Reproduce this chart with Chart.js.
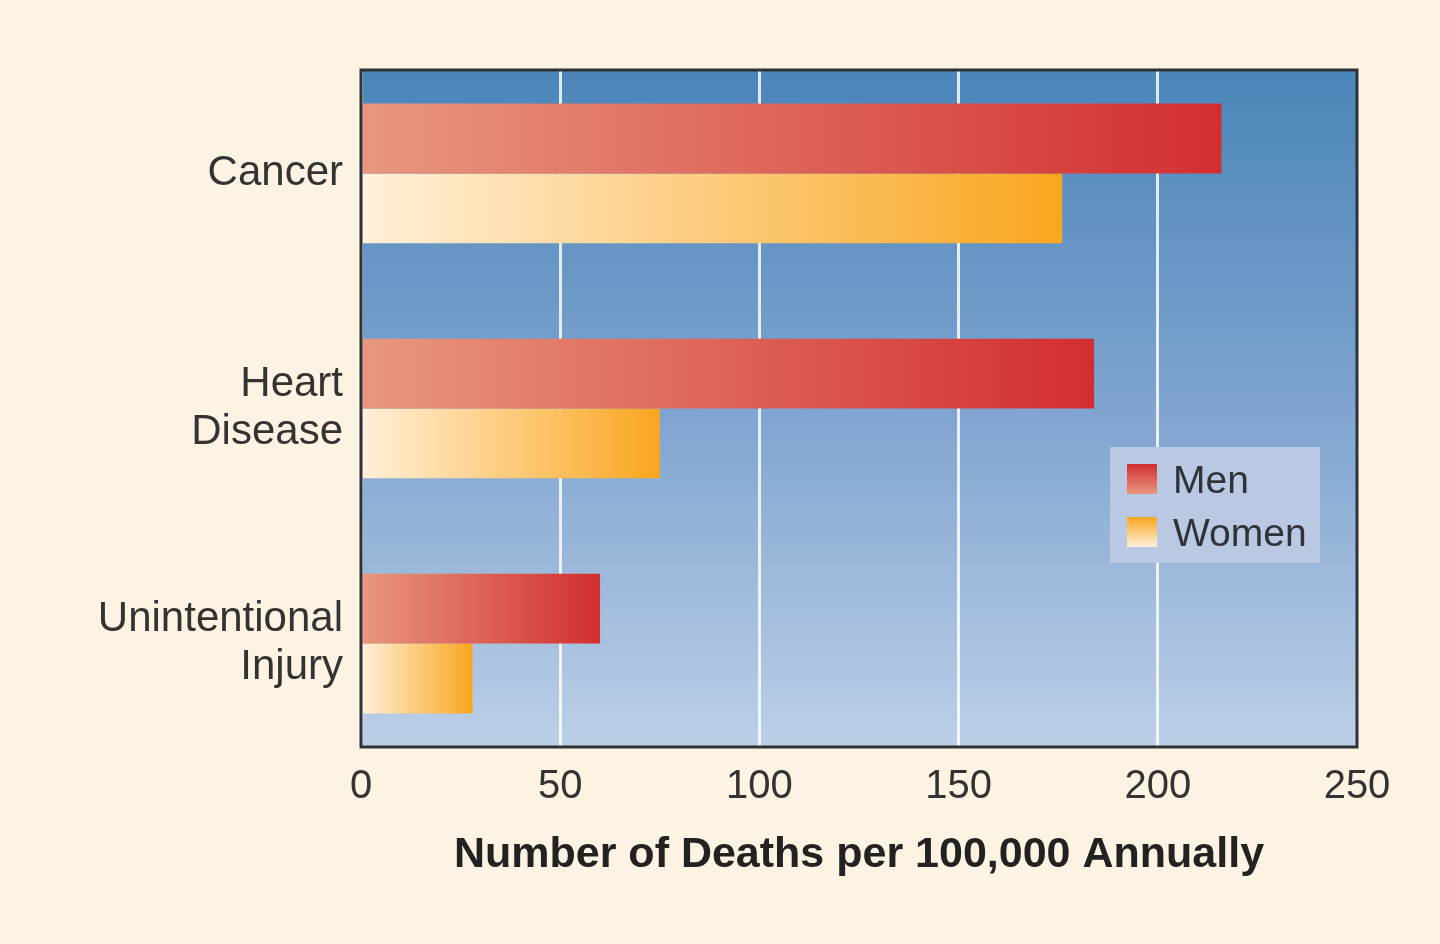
<!DOCTYPE html>
<html>
<head>
<meta charset="utf-8">
<title>Deaths per 100,000 Annually</title>
<script src="https://cdn.jsdelivr.net/npm/chart.js@4.4.1/dist/chart.umd.min.js"></script>
<style>
  html, body { margin: 0; padding: 0; background: #fdf3e3; }
  #wrap { width: 1440px; height: 944px; position: relative; }
</style>
</head>
<body>
<div id="wrap"><canvas id="deathsChart"></canvas></div>
<script>
// ─── DATA ───
const categories = ['Cancer', 'Heart Disease', 'Unintentional Injury'];
const menDeaths = [216, 184, 60];
const womenDeaths = [176, 75, 28];
const xTicks = [0, 50, 100, 150, 200, 250];
const seriesNames = ['Men', 'Women'];

// ─── COLOURS ───
const menStops = ['#e8977f', '#d22e30'];
const womenStops = ['#fff0da', '#f9a61f'];
const FONT = "'Liberation Sans', Arial, sans-serif";

// horizontal gradient running along each bar, light at 0 and dark at its end
function barGradient(ctx, stops) {
    const chart = ctx.chart;
    const xs = chart.scales.x;
    if (!xs || !ctx.raw) return stops[1];
    const x0 = xs.getPixelForValue(0);
    const x1 = xs.getPixelForValue(ctx.raw.x);
    if (!(x1 > x0)) return stops[1];
    const g = chart.ctx.createLinearGradient(x0, 0, x1, 0);
    g.addColorStop(0, stops[0]);
    g.addColorStop(1, stops[1]);
    return g;
}

// ─── PLOT BACKGROUND + FRAME ───
const plotFrame = {
    id: 'plotFrame',
    beforeDraw(chart) {
        const { ctx, chartArea: a } = chart;
        const g = ctx.createLinearGradient(0, a.top, 0, a.bottom);
        g.addColorStop(0, '#4a85b9');
        g.addColorStop(0.5, '#7fa4cf');
        g.addColorStop(1, '#bccfe7');
        ctx.save();
        ctx.fillStyle = g;
        ctx.fillRect(a.left, a.top, a.right - a.left, a.bottom - a.top);
        ctx.restore();
    },
    afterDraw(chart) {
        const { ctx, chartArea: a } = chart;
        ctx.save();
        ctx.strokeStyle = '#2e3236';
        ctx.lineWidth = 3;
        ctx.strokeRect(a.left, a.top, a.right - a.left, a.bottom - a.top);
        ctx.restore();
    }
};

// ─── LEGEND BOX INSIDE THE PLOT ───
const boxLegend = {
    id: 'boxLegend',
    afterDatasetsDraw(chart) {
        const ctx = chart.ctx;
        const bx = 1110, by = 447, bw = 210, bh = 116;
        ctx.save();
        ctx.fillStyle = '#b9c8e3';
        ctx.fillRect(bx, by, bw, bh);
        const swatches = [menStops, womenStops];
        chart.data.datasets.forEach((ds, i) => {
            const sy = by + 17 + i * 53;
            const g = ctx.createLinearGradient(0, sy, 0, sy + 30);
            g.addColorStop(0, swatches[i][1]);
            g.addColorStop(1, swatches[i][0]);
            ctx.fillStyle = g;
            ctx.fillRect(bx + 17, sy, 30, 30);
            ctx.fillStyle = '#2f3236';
            ctx.font = '39px ' + FONT;
            ctx.textBaseline = 'middle';
            ctx.textAlign = 'left';
            ctx.fillText(ds.label, bx + 63, sy + 18);
        });
        ctx.restore();
    }
};

// ─── CREATE THE CHART ───
const ctx = document.getElementById('deathsChart').getContext('2d');
const deathsChart = new Chart(ctx, {
    type: 'bar',
    data: {
        datasets: [
            {
                label: seriesNames[0],
                data: menDeaths.map((v, i) => ({ x: v, y: i })),
                backgroundColor: c => barGradient(c, menStops),
                borderWidth: 0
            },
            {
                label: seriesNames[1],
                data: womenDeaths.map((v, i) => ({ x: v, y: i })),
                backgroundColor: c => barGradient(c, womenStops),
                borderWidth: 0
            }
        ]
    },
    options: {
        indexAxis: 'y',
        responsive: true,
        maintainAspectRatio: false,
        animation: false,
        categoryPercentage: 0.594,
        barPercentage: 1.0,
        layout: { padding: { top: 70, right: 83, left: 0, bottom: 0 } },
        scales: {
            x: {
                type: 'linear',
                min: xTicks[0],
                max: xTicks[xTicks.length - 1],
                afterBuildTicks: s => { s.ticks = xTicks.map(v => ({ value: v })); },
                afterFit: s => { s.height = 197; },
                grid: { color: 'rgba(255,255,255,0.82)', lineWidth: 3, drawTicks: false },
                border: { display: false },
                ticks: { color: '#333', padding: 16, font: { family: FONT, size: 40 } },
                title: {
                    display: true,
                    text: 'Number of Deaths per 100,000 Annually',
                    color: '#222',
                    font: { family: FONT, size: 43, weight: 'bold' },
                    padding: { top: 0, bottom: 63 }
                }
            },
            y: {
                type: 'linear',
                reverse: true,
                offset: false,
                min: -0.44,
                max: 2.44,
                afterBuildTicks: s => { s.ticks = categories.map((c, i) => ({ value: i })); },
                afterFit: s => { s.width = 361; },
                grid: { display: false, drawTicks: false },
                border: { display: false },
                ticks: {
                    color: '#333',
                    padding: 18,
                    font: { family: FONT, size: 42, lineHeight: 1.15 },
                    callback: v => categories[v].split(' ')
                }
            }
        },
        plugins: {
            legend: { display: false },
            tooltip: { enabled: false }
        }
    },
    plugins: [plotFrame, boxLegend]
});
</script>
</body>
</html>
